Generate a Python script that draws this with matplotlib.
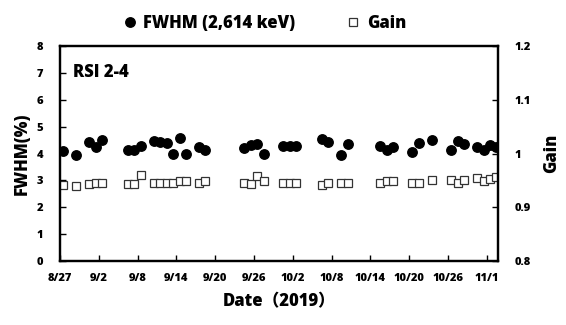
import matplotlib
matplotlib.use("Agg")
import matplotlib.pyplot as plt
import numpy as np
import pandas as pd

plt.rcParams["font.family"] = ["Open Sans", "DejaVu Sans"]
plt.rcParams["font.weight"] = "heavy"

# measurement dates (2019), taken around midday
dates = ["08-27", "08-29", "08-31", "09-01", "09-02", "09-06", "09-07", "09-08",
         "09-10", "09-11", "09-12", "09-13", "09-14", "09-15", "09-17", "09-18",
         "09-24", "09-25", "09-26", "09-27", "09-30", "10-01", "10-02", "10-06",
         "10-07", "10-09", "10-10", "10-15", "10-16", "10-17", "10-20", "10-21",
         "10-23", "10-26", "10-27", "10-28", "10-30", "10-31", "11-01", "11-02"]
fwhm = [4.09, 3.94, 4.43, 4.25, 4.52, 4.15, 4.13, 4.29, 4.45, 4.44,
        4.40, 4.00, 4.58, 4.00, 4.23, 4.13, 4.21, 4.31, 4.35, 3.99,
        4.29, 4.29, 4.29, 4.54, 4.44, 3.94, 4.35, 4.28, 4.13, 4.23,
        4.04, 4.40, 4.50, 4.15, 4.46, 4.35, 4.25, 4.13, 4.31, 4.23]
gain = [0.941, 0.940, 0.943, 0.945, 0.945, 0.943, 0.944, 0.960, 0.946, 0.946,
        0.945, 0.946, 0.949, 0.949, 0.946, 0.949, 0.946, 0.943, 0.958, 0.949,
        0.946, 0.945, 0.945, 0.941, 0.945, 0.945, 0.946, 0.946, 0.949, 0.949,
        0.946, 0.946, 0.951, 0.951, 0.946, 0.951, 0.955, 0.949, 0.953, 0.957]
tick_labels = ["8/27", "9/2", "9/8", "9/14", "9/20", "9/26", "10/2",
               "10/8", "10/14", "10/20", "10/26", "11/1"]

t = pd.to_datetime(["2019-" + d + " 12:00" for d in dates])
start = pd.Timestamp("2019-08-27")
x = (t - start) / pd.Timedelta(days=1)

fig = plt.figure(figsize=(5.66, 3.25), dpi=100)
ax = fig.add_axes([0.106, 0.197, 0.774, 0.661])
ax2 = ax.twinx()

h1, = ax.plot(x, fwhm, "o", color="black", markersize=6.8, linestyle="none",
              label="FWHM (2,614 keV)", zorder=3)
h2, = ax2.plot(x, gain, "s", markerfacecolor="white", markeredgecolor="#333333",
               markeredgewidth=0.9, markersize=5.2, linestyle="none", label="Gain")

ax.set_xlim(0, 67.75)
ax.set_ylim(0, 8)
ax2.set_ylim(0.8, 1.2)
ax.set_xticks(np.arange(0, 67, 6))
ax.set_xticklabels(tick_labels)
ax.set_yticks(range(0, 9))
ax2.set_yticks([0.8, 0.9, 1.0, 1.1, 1.2])
ax2.set_yticklabels(["0.8", "0.9", "1", "1.1", "1.2"])

for a in (ax, ax2):
    a.tick_params(direction="in", length=4, width=1, labelsize=8)
    for s in a.spines.values():
        s.set_linewidth(1.6)
ax.tick_params(axis="x", pad=9)
ax.tick_params(axis="y", pad=12)
ax2.tick_params(axis="y", pad=12)
ax.set_zorder(ax2.get_zorder() + 1)
ax.patch.set_visible(False)

ax.set_ylabel("FWHM(%)", fontsize=12, fontweight="heavy", labelpad=4)
ax2.set_ylabel("Gain", fontsize=12, fontweight="heavy", labelpad=9)
ax.set_xlabel("Date\uff082019\uff09", fontsize=12, fontweight="heavy", labelpad=6,
              family=["Open Sans", "Noto Sans CJK JP"])
ax.text(0.03, 0.855, "RSI 2-4", transform=ax.transAxes, fontsize=12,
        fontweight="heavy")

fig.legend(handles=[h1, h2], loc="upper center", bbox_to_anchor=(0.466, 1.0),
           ncol=2, frameon=False, fontsize=12, columnspacing=3.0,
           handletextpad=0.3, handlelength=1.0)

fig.savefig("out.png", dpi=100)
